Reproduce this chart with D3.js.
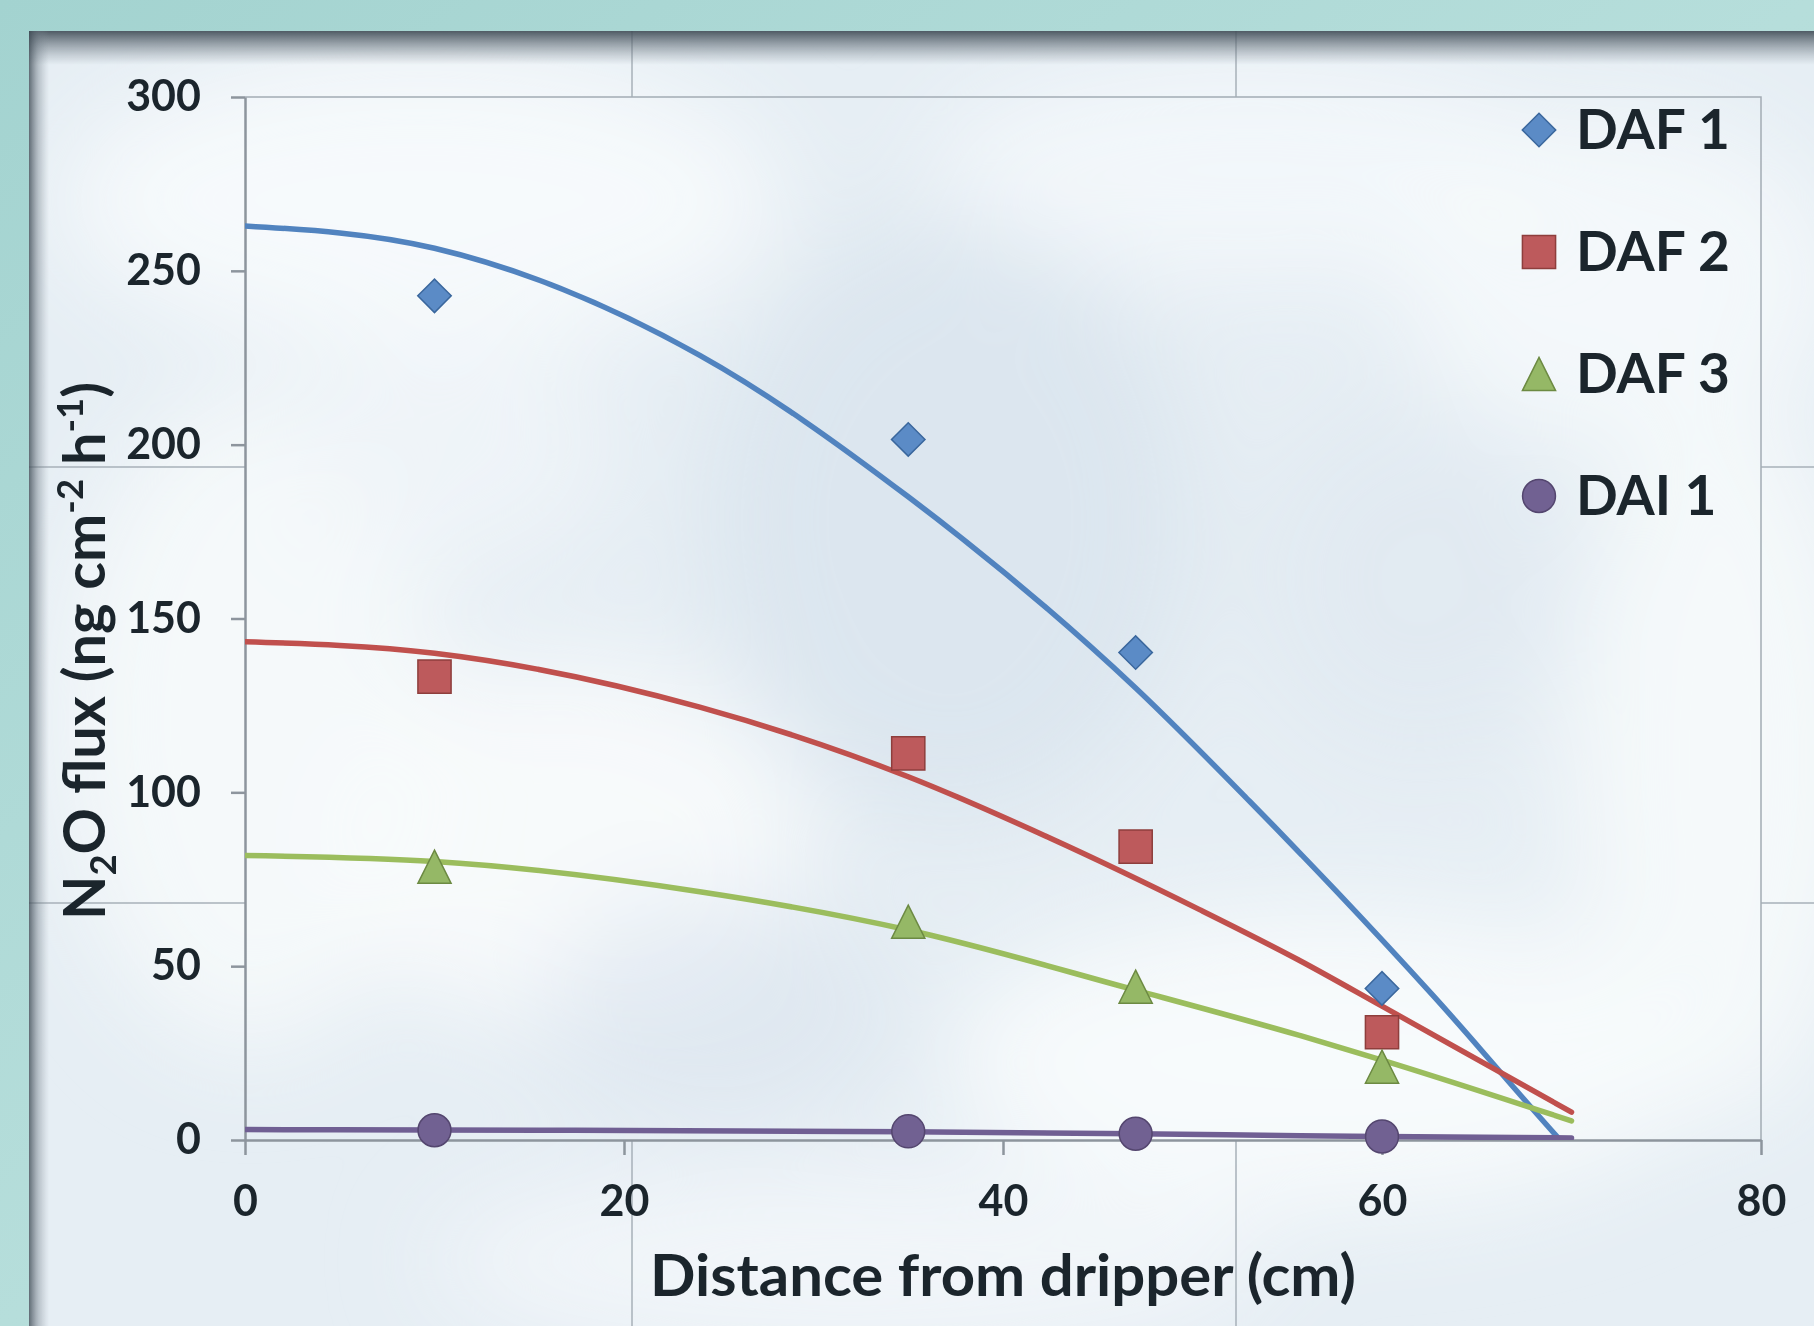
<!DOCTYPE html>
<html>
<head>
<meta charset="utf-8">
<script src="https://cdn.jsdelivr.net/npm/d3@7"></script>
<style>
    html, body { margin: 0; padding: 0; background: #aed9d7; overflow: hidden; }
    svg { display: block; }
    .axis path, .axis line { stroke: #8d959d; stroke-width: 2.5; }
    .axis text { font-family: Lato, "Open Sans", sans-serif; font-weight: 700; font-size: 43px; fill: #1b252c; }
    .title { font-family: Lato, "Open Sans", sans-serif; font-weight: 700; fill: #1b252c; }
</style>
</head>
<body>
<div id="chart"></div>
<script>
// values
let seriesNames = ["DAF 1", "DAF 2", "DAF 3", "DAI 1"];
let distance = [10, 35, 47, 60];
let daf1 = [242.8, 201.5, 140.2, 43.6];
let daf2 = [133.3, 111.2, 84.4, 31.0];
let daf3 = [78.6, 62.8, 44.1, 21.1];
let dai1 = [2.8, 2.5, 1.8, 1.0];

// trend curves, [distance, flux]
let trendDaf1 = [[0, 262.9], [10, 256.5], [24, 225.7], [35, 185.0], [47, 130.0], [53, 97.5], [57.6, 71.5], [62.7, 41.5], [69.4, 0], [70, -3.6]];
let trendDaf2 = [[0, 143.3], [10, 140.0], [24, 124.5], [35, 104.5], [42.5, 86.8], [50.4, 66.2], [55.7, 51.5], [60, 38.5], [70, 8.0]];
let trendDaf3 = [[0, 81.8], [10, 80.1], [24, 71.4], [35, 60.4], [47, 43.1], [55.7, 30.0], [60, 23.0], [70, 5.5]];
let trendDai1 = [[0, 3.0], [10, 2.9], [35, 2.4], [47, 1.8], [55.7, 1.25], [60, 1.0], [70, 0.6]];

let xTicks = [0, 20, 40, 60, 80];
let yTicks = [0, 50, 100, 150, 200, 250, 300];

let W = 1814, H = 1326;
let margin = {top: 97, right: 53, bottom: 186, left: 245};
let plotW = W - margin.left - margin.right,
    plotH = H - margin.top - margin.bottom;

let svg = d3.select("#chart").append("svg")
    .attr("width", W)
    .attr("height", H);

let defs = svg.append("defs");

// ---- background: teal slide, cloudy panel with shadowed edge ----
let teal = defs.append("linearGradient").attr("id", "teal")
    .attr("x1", 0).attr("y1", 0).attr("x2", 1).attr("y2", 1);
teal.append("stop").attr("offset", "0%").attr("stop-color", "#a3d3d0");
teal.append("stop").attr("offset", "50%").attr("stop-color", "#b6dedb");
teal.append("stop").attr("offset", "100%").attr("stop-color", "#a9d6d3");

let topShade = defs.append("linearGradient").attr("id", "topShade")
    .attr("x1", 0).attr("y1", 0).attr("x2", 0).attr("y2", 1);
topShade.append("stop").attr("offset", "0%").attr("stop-color", "#3e4a54").attr("stop-opacity", 0.9);
topShade.append("stop").attr("offset", "40%").attr("stop-color", "#5a6670").attr("stop-opacity", 0.55);
topShade.append("stop").attr("offset", "100%").attr("stop-color", "#7a8690").attr("stop-opacity", 0);

let leftShade = defs.append("linearGradient").attr("id", "leftShade")
    .attr("x1", 0).attr("y1", 0).attr("x2", 1).attr("y2", 0);
leftShade.append("stop").attr("offset", "0%").attr("stop-color", "#3e4a54").attr("stop-opacity", 0.8);
leftShade.append("stop").attr("offset", "45%").attr("stop-color", "#6a7680").attr("stop-opacity", 0.4);
leftShade.append("stop").attr("offset", "100%").attr("stop-color", "#8a96a0").attr("stop-opacity", 0);

defs.append("filter").attr("id", "soft")
    .attr("x", "-50%").attr("y", "-50%").attr("width", "200%").attr("height", "200%")
    .append("feGaussianBlur").attr("stdDeviation", 50);

let panelClip = defs.append("clipPath").attr("id", "panelClip");
panelClip.append("rect").attr("x", 29).attr("y", 31).attr("width", W - 29).attr("height", H - 31);

svg.append("rect").attr("width", W).attr("height", H).attr("fill", "url(#teal)");

let panel = svg.append("g").attr("clip-path", "url(#panelClip)");
panel.append("rect")
    .attr("x", 29).attr("y", 31).attr("width", W - 29).attr("height", H - 31)
    .attr("fill", "#e6eef4");

// soft cloud patches (decoration only)
let clouds = [
    [420, 200, 360, 150, "#f7fafc", 0.95], [1250, 170, 320, 110, "#f4f8fb", 0.85],
    [1620, 280, 220, 170, "#f6f9fb", 0.85], [250, 720, 190, 330, "#f6f9fb", 0.9],
    [560, 840, 250, 180, "#f8fbfc", 0.9], [1330, 1060, 380, 150, "#f8fbfc", 0.95],
    [1720, 760, 150, 360, "#f6f9fb", 0.9], [850, 1260, 420, 90, "#f3f7fa", 0.85],
    [950, 520, 240, 300, "#d7e3ed", 0.7], [720, 1010, 180, 120, "#dae5ee", 0.6],
    [1420, 580, 160, 170, "#dde7f0", 0.5], [450, 450, 160, 120, "#f0f5f9", 0.8]
];
panel.append("g").attr("filter", "url(#soft)")
    .selectAll("ellipse")
    .data(clouds)
    .enter().append("ellipse")
    .attr("cx", d => d[0]).attr("cy", d => d[1])
    .attr("rx", d => d[2]).attr("ry", d => d[3])
    .attr("fill", d => d[4]).attr("opacity", d => d[5]);

// faint slide grid lines, hidden behind the plot area
let gridMask = defs.append("mask").attr("id", "gridMask");
gridMask.append("rect").attr("width", W).attr("height", H).attr("fill", "white");
gridMask.append("rect")
    .attr("x", margin.left).attr("y", margin.top)
    .attr("width", plotW).attr("height", plotH).attr("fill", "black");

let grid = panel.append("g").attr("mask", "url(#gridMask)")
    .attr("stroke", "#a7b0b8").attr("stroke-width", 1.5);
[632, 1236].forEach(gx => grid.append("line").attr("x1", gx).attr("x2", gx).attr("y1", 31).attr("y2", H));
[467, 903].forEach(gy => grid.append("line").attr("y1", gy).attr("y2", gy).attr("x1", 29).attr("x2", W));

panel.append("rect").attr("x", 29).attr("y", 31).attr("width", W - 29).attr("height", 34).attr("fill", "url(#topShade)");
panel.append("rect").attr("x", 29).attr("y", 31).attr("width", 20).attr("height", H - 31).attr("fill", "url(#leftShade)");

// ---- chart ----
let g = svg.append("g")
    .attr("transform", "translate(" + margin.left + "," + margin.top + ")");

let x = d3.scaleLinear().domain([0, 80]).range([0, plotW]);
let y = d3.scaleLinear().domain([0, 300]).range([plotH, 0]);

// plot area outline (top/right)
g.append("path")
    .attr("d", "M0,0H" + plotW + "V" + plotH)
    .attr("fill", "none")
    .attr("stroke", "#a3acb4")
    .attr("stroke-width", 1.5);

let xAxis = d3.axisBottom(x).tickValues(xTicks).tickSize(15).tickPadding(30).tickSizeOuter(0);
let yAxis = d3.axisLeft(y).tickValues(yTicks).tickSize(14).tickPadding(30).tickSizeOuter(0);

g.append("g")
    .attr("class", "x-axis axis")
    .attr("transform", "translate(0," + plotH + ")")
    .call(xAxis);

g.append("g")
    .attr("class", "y-axis axis")
    .call(yAxis);

let clip = defs.append("clipPath").attr("id", "plotClip");
clip.append("rect").attr("x", 0).attr("y", 0).attr("width", plotW).attr("height", plotH);

let series = [
    {name: seriesNames[0], values: daf1, trend: trendDaf1, line: "#5183bf", fill: "#5b8bc6", stroke: "#3a679d", shape: "diamond"},
    {name: seriesNames[1], values: daf2, trend: trendDaf2, line: "#c0504d", fill: "#bd5a5c", stroke: "#8e3e3c", shape: "square"},
    {name: seriesNames[2], values: daf3, trend: trendDaf3, line: "#9bbd5d", fill: "#95b866", stroke: "#6c8a42", shape: "triangle"},
    {name: seriesNames[3], values: dai1, trend: trendDai1, line: "#705f93", fill: "#716192", stroke: "#54466f", shape: "circle"}
];

let line = d3.line()
    .x(d => x(d[0]))
    .y(d => y(d[1]))
    .curve(d3.curveMonotoneX);

g.append("g").attr("clip-path", "url(#plotClip)")
    .selectAll(".trend")
    .data(series)
    .enter().append("path")
    .attr("class", "trend")
    .attr("d", d => line(d.trend))
    .attr("fill", "none")
    .attr("stroke", d => d.line)
    .attr("stroke-width", 5.5)
    .attr("stroke-linecap", "round");

// marker shapes, about 33px across
let triangleUp = {
    draw(ctx, size) {
        let s = Math.sqrt(size);
        ctx.moveTo(0, -s / 2);
        ctx.lineTo(s / 2, s / 2);
        ctx.lineTo(-s / 2, s / 2);
        ctx.closePath();
    }
};

function markerPath(shape) {
    if (shape === "diamond") return d3.symbol(d3.symbolSquare, 560)();
    if (shape === "square") return d3.symbol(d3.symbolSquare, 1100)();
    if (shape === "triangle") return d3.symbol(triangleUp, 1100)();
    return d3.symbol(d3.symbolCircle, 850)();
}

function markerRotate(shape) {
    return shape === "diamond" ? " rotate(45)" : "";
}

series.forEach(s => {
    g.selectAll(".pt-" + s.shape)
        .data(s.values.map((v, i) => [distance[i], v]))
        .enter().append("path")
        .attr("class", "pt-" + s.shape)
        .attr("d", markerPath(s.shape))
        .attr("transform", d => "translate(" + x(d[0]) + "," + y(d[1]) + ")" + markerRotate(s.shape))
        .attr("fill", s.fill)
        .attr("stroke", s.stroke)
        .attr("stroke-width", 1.5);
});

// legend
let legend = g.selectAll(".legend")
    .data(series)
    .enter().append("g")
    .attr("class", "legend")
    .attr("transform", (d, i) => "translate(" + (1539 - margin.left) + "," + (130 + i * 122 - margin.top) + ")");

legend.append("path")
    .attr("d", d => markerPath(d.shape))
    .attr("transform", d => markerRotate(d.shape))
    .attr("fill", d => d.fill)
    .attr("stroke", d => d.stroke)
    .attr("stroke-width", 1.5);

legend.append("text")
    .attr("class", "title")
    .attr("x", 37)
    .attr("y", 19)
    .style("font-size", "55px")
    .text(d => d.name);

// axis titles, squeezed to the width they have in the picture
function fitWidth(sel, target) {
    let w = sel.node().getComputedTextLength();
    sel.attr("transform", "scale(" + (target / w) + ",1)");
}

let xTitle = svg.append("g")
    .attr("transform", "translate(1003,1296)")
    .append("text")
    .attr("class", "title")
    .attr("text-anchor", "middle")
    .style("font-size", "57px")
    .text("Distance from dripper (cm)");
fitWidth(xTitle, 706);

let yTitle = svg.append("g")
    .attr("transform", "translate(105,651) rotate(-90)")
    .append("text")
    .attr("class", "title")
    .attr("text-anchor", "middle")
    .style("font-size", "57px");
yTitle.append("tspan").text("N");
yTitle.append("tspan").attr("dy", 11).style("font-size", "36px").text("2");
yTitle.append("tspan").attr("dy", -11).text("O flux (ng cm");
yTitle.append("tspan").attr("dy", -22).style("font-size", "36px").text("-2");
yTitle.append("tspan").attr("dy", 22).text(" h");
yTitle.append("tspan").attr("dy", -22).style("font-size", "36px").text("-1");
yTitle.append("tspan").attr("dy", 22).text(")");
fitWidth(yTitle, 538);
</script>
</body>
</html>
